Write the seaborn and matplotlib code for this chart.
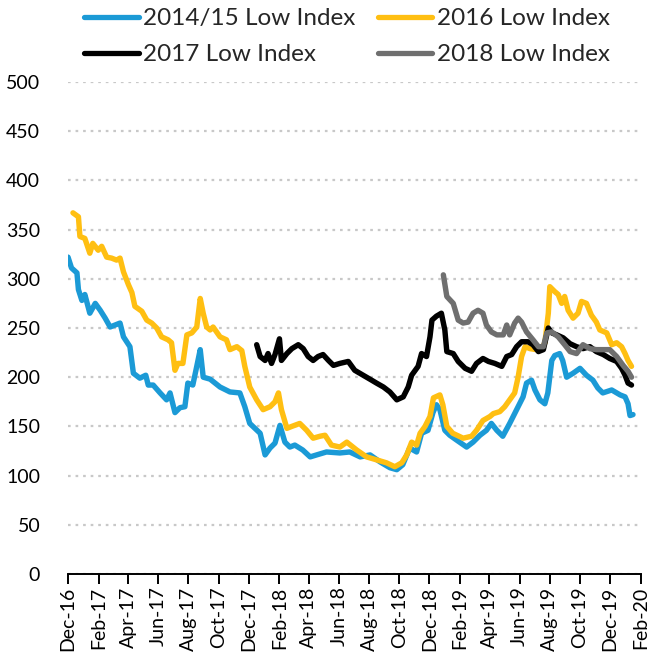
import pandas as pd
import matplotlib
matplotlib.use("Agg")
import matplotlib.pyplot as plt
import matplotlib.dates as mdates
import seaborn as sns

# ---- data -----------------------------------------------------------------
dates_1415 = ["2016-12-01", "2016-12-08", "2016-12-19", "2016-12-22", "2016-12-29",
              "2017-01-04", "2017-01-14", "2017-01-25", "2017-02-04", "2017-02-14",
              "2017-02-24", "2017-03-06", "2017-03-16", "2017-03-23", "2017-04-05",
              "2017-04-12", "2017-04-25", "2017-05-07", "2017-05-12", "2017-05-22",
              "2017-06-05", "2017-06-18", "2017-06-25", "2017-07-05", "2017-07-15",
              "2017-07-25", "2017-07-31", "2017-08-10", "2017-08-18", "2017-08-25",
              "2017-08-31", "2017-09-14", "2017-10-04", "2017-10-24", "2017-11-13",
              "2017-11-23", "2017-12-03", "2017-12-24", "2018-01-03", "2018-01-13",
              "2018-01-23", "2018-02-02", "2018-02-12", "2018-02-22", "2018-03-04",
              "2018-03-20", "2018-04-04", "2018-04-17", "2018-05-07", "2018-06-03",
              "2018-06-23", "2018-07-14", "2018-08-03", "2018-08-23", "2018-09-12",
              "2018-09-26", "2018-10-08", "2018-10-22", "2018-11-05", "2018-11-15",
              "2018-11-28", "2018-12-08", "2018-12-15", "2018-12-22", "2019-01-01",
              "2019-01-11", "2019-01-25", "2019-02-14", "2019-02-27", "2019-03-13",
              "2019-03-26", "2019-04-05", "2019-04-16", "2019-04-28", "2019-05-12",
              "2019-05-26", "2019-06-08", "2019-06-15", "2019-06-25", "2019-07-02",
              "2019-07-12", "2019-07-22", "2019-07-28", "2019-08-05", "2019-08-11",
              "2019-08-21", "2019-08-27", "2019-09-04", "2019-09-17", "2019-10-01",
              "2019-10-14", "2019-10-27", "2019-11-06", "2019-11-16", "2019-12-04",
              "2019-12-21", "2019-12-31", "2020-01-06", "2020-01-10", "2020-01-16"]
low_1415 = [322, 311, 306, 289, 278, 284, 265, 275, 268, 260,
            251, 253, 255, 241, 231, 204, 199, 202, 192, 192,
            184, 177, 184, 164, 169, 170, 194, 192, 211, 228,
            200, 198, 190, 185, 184, 170, 153, 143, 121, 128,
            133, 151, 134, 129, 131, 126, 119, 121, 124, 123,
            124, 119, 121, 114, 108, 106, 111, 128, 124, 143,
            146, 164, 172, 167, 146, 141, 136, 129, 134, 141,
            146, 153, 146, 140, 153, 167, 180, 194, 197, 187,
            177, 173, 184, 217, 222, 224, 217, 200, 204, 209,
            202, 197, 189, 184, 187, 182, 180, 173, 161, 162]

dates_16 = ["2016-12-11", "2016-12-22", "2016-12-25", "2017-01-04", "2017-01-14",
            "2017-01-20", "2017-01-31", "2017-02-07", "2017-02-17", "2017-02-27",
            "2017-03-09", "2017-03-16", "2017-03-23", "2017-04-02", "2017-04-09",
            "2017-04-15", "2017-04-29", "2017-05-09", "2017-05-19", "2017-05-29",
            "2017-06-08", "2017-06-21", "2017-06-28", "2017-07-05", "2017-07-11",
            "2017-07-21", "2017-07-29", "2017-08-08", "2017-08-18", "2017-08-25",
            "2017-08-31", "2017-09-07", "2017-09-14", "2017-09-20", "2017-10-04",
            "2017-10-17", "2017-10-24", "2017-11-07", "2017-11-17", "2017-11-23",
            "2017-12-03", "2017-12-17", "2017-12-30", "2018-01-13", "2018-01-23",
            "2018-01-30", "2018-02-05", "2018-02-16", "2018-02-26", "2018-03-14",
            "2018-03-28", "2018-04-10", "2018-04-24", "2018-05-04", "2018-05-17",
            "2018-06-03", "2018-06-17", "2018-07-07", "2018-07-27", "2018-08-16",
            "2018-09-05", "2018-09-22", "2018-10-06", "2018-10-16", "2018-10-26",
            "2018-11-05", "2018-11-12", "2018-11-22", "2018-12-02", "2018-12-09",
            "2018-12-22", "2018-12-28", "2019-01-05", "2019-01-17", "2019-02-07",
            "2019-02-24", "2019-03-06", "2019-03-19", "2019-04-02", "2019-04-09",
            "2019-04-22", "2019-05-02", "2019-05-12", "2019-05-22", "2019-05-29",
            "2019-06-05", "2019-06-12", "2019-06-22", "2019-07-05", "2019-07-15",
            "2019-07-22", "2019-07-29", "2019-08-01", "2019-08-11", "2019-08-18",
            "2019-08-25", "2019-08-31", "2019-09-07", "2019-09-17", "2019-09-27",
            "2019-10-04", "2019-10-14", "2019-10-24", "2019-11-03", "2019-11-10",
            "2019-11-24", "2019-12-04", "2019-12-14", "2019-12-24", "2019-12-31",
            "2020-01-06", "2020-01-13"]
low_16 = [367, 363, 343, 341, 326, 336, 329, 333, 322, 321,
          319, 321, 307, 294, 286, 272, 267, 258, 255, 250,
          241, 238, 235, 207, 214, 214, 243, 245, 251, 280,
          265, 251, 248, 251, 241, 238, 228, 231, 227, 211,
          190, 177, 167, 170, 175, 184, 167, 148, 150, 153,
          146, 138, 140, 141, 131, 129, 134, 126, 119, 116,
          113, 109, 113, 121, 134, 131, 143, 150, 160, 179,
          182, 172, 150, 143, 138, 140, 146, 156, 160, 163,
          165, 170, 177, 184, 200, 221, 231, 229, 228, 228,
          235, 265, 292, 287, 284, 275, 282, 268, 260, 265,
          277, 275, 263, 256, 248, 245, 233, 235, 231, 224,
          217, 211]

dates_17 = ["2017-12-17", "2017-12-24", "2018-01-03", "2018-01-09", "2018-01-16",
            "2018-01-23", "2018-02-01", "2018-02-05", "2018-02-16", "2018-02-26",
            "2018-03-11", "2018-03-21", "2018-03-31", "2018-04-10", "2018-04-20",
            "2018-04-30", "2018-05-11", "2018-05-21", "2018-06-03", "2018-06-20",
            "2018-07-03", "2018-07-20", "2018-08-06", "2018-08-16", "2018-08-30",
            "2018-09-12", "2018-09-26", "2018-10-09", "2018-10-19", "2018-10-26",
            "2018-11-08", "2018-11-15", "2018-11-25", "2018-12-02", "2018-12-06",
            "2018-12-15", "2018-12-25", "2019-01-01", "2019-01-05", "2019-01-18",
            "2019-01-28", "2019-02-11", "2019-02-24", "2019-03-06", "2019-03-19",
            "2019-03-30", "2019-04-12", "2019-04-26", "2019-05-06", "2019-05-16",
            "2019-05-26", "2019-06-05", "2019-06-18", "2019-06-28", "2019-07-09",
            "2019-07-19", "2019-07-29", "2019-08-05", "2019-08-15", "2019-08-28",
            "2019-09-11", "2019-09-24", "2019-10-07", "2019-10-21", "2019-11-03",
            "2019-11-17", "2019-11-30", "2019-12-14", "2019-12-24", "2019-12-31",
            "2020-01-06", "2020-01-13"]
low_17 = [233, 221, 217, 224, 214, 223, 239, 217, 224, 229,
          233, 229, 221, 217, 221, 223, 217, 212, 214, 216,
          207, 202, 197, 194, 190, 185, 177, 180, 190, 202,
          211, 224, 221, 241, 258, 262, 265, 248, 226, 224,
          216, 209, 206, 214, 219, 216, 214, 211, 221, 223,
          231, 236, 236, 233, 226, 228, 250, 245, 243, 240,
          234, 231, 229, 231, 226, 223, 219, 216, 209, 202,
          194, 192]

dates_18 = ["2018-12-29", "2019-01-05", "2019-01-18", "2019-01-28", "2019-02-07",
            "2019-02-17", "2019-02-27", "2019-03-09", "2019-03-19", "2019-03-26",
            "2019-04-05", "2019-04-16", "2019-04-29", "2019-05-06", "2019-05-12",
            "2019-05-22", "2019-05-29", "2019-06-05", "2019-06-15", "2019-06-28",
            "2019-07-09", "2019-07-19", "2019-07-26", "2019-08-05", "2019-08-18",
            "2019-08-31", "2019-09-11", "2019-09-24", "2019-10-07", "2019-10-21",
            "2019-11-03", "2019-11-17", "2019-11-30", "2019-12-14", "2019-12-27",
            "2020-01-06", "2020-01-13"]
low_18 = [304, 282, 275, 258, 255, 256, 265, 268, 265, 253,
          246, 243, 243, 253, 243, 255, 260, 256, 246, 238,
          231, 231, 245, 246, 241, 233, 226, 224, 233, 229,
          228, 228, 228, 221, 212, 206, 200]

series_names = ["2014/15 Low Index", "2016 Low Index", "2017 Low Index", "2018 Low Index"]
series_colors = ["#1b9ad6", "#ffbf12", "#000000", "#6f6f6f"]

frames = []
for name, d, v in zip(series_names,
                      [dates_1415, dates_16, dates_17, dates_18],
                      [low_1415, low_16, low_17, low_18]):
    frames.append(pd.DataFrame({"date": pd.to_datetime(d), "value": v, "series": name}))
df = pd.concat(frames, ignore_index=True)

# ---- figure -----------------------------------------------------------------
sns.set_theme(style="white")
plt.rcParams["font.family"] = ["Lato", "DejaVu Sans"]

fig = plt.figure(figsize=(6.56, 6.59), dpi=100)
ax = fig.add_axes([0.1037, 0.129, 0.8733, 0.7466])

sns.lineplot(data=df, x="date", y="value", hue="series", hue_order=series_names,
             palette=series_colors, linewidth=3.9, ax=ax, legend=False,
             estimator=None, sort=True)

ax.set_ylim(0, 500)
ax.set_yticks(range(0, 501, 50))
ax.set_xlim(pd.Timestamp("2016-12-01"), pd.Timestamp("2020-02-01"))
ax.xaxis.set_major_locator(mdates.MonthLocator(bymonth=[2, 4, 6, 8, 10, 12]))
ax.xaxis.set_major_formatter(mdates.DateFormatter("%b-%y"))
ax.set_xlabel("")
ax.set_ylabel("")

ax.grid(axis="y", color="#c8c8c8", linestyle=(0, (1.2, 2.2)), linewidth=1.6)
ax.grid(axis="x", visible=False)
ax.set_axisbelow(True)

for side in ["left", "right", "top"]:
    ax.spines[side].set_visible(False)
ax.spines["bottom"].set_color("black")
ax.spines["bottom"].set_linewidth(1.4)

ax.tick_params(axis="x", which="major", direction="out", length=7, width=1.4,
               color="black", labelsize=14, labelrotation=90, pad=2, bottom=True)
ax.tick_params(axis="y", length=0, labelsize=14, pad=20)
for lab in ax.get_yticklabels():
    lab.set_color("black")
for lab in ax.get_xticklabels():
    lab.set_color("black")

# legend laid out row by row: (2014/15, 2016) on top, (2017, 2018) below
handles = [plt.Line2D([], [], color=c, linewidth=3.8, solid_capstyle="round")
           for c in series_colors]
order = [0, 2, 1, 3]
fig.legend([handles[i] for i in order], [series_names[i] for i in order],
           loc="center", bbox_to_anchor=(0.529, 0.944),
           ncol=2, frameon=False, fontsize=17.5, handlelength=2.25,
           handletextpad=0.2, columnspacing=0.9, labelspacing=0.62)

fig.savefig("out.png", dpi=100)
